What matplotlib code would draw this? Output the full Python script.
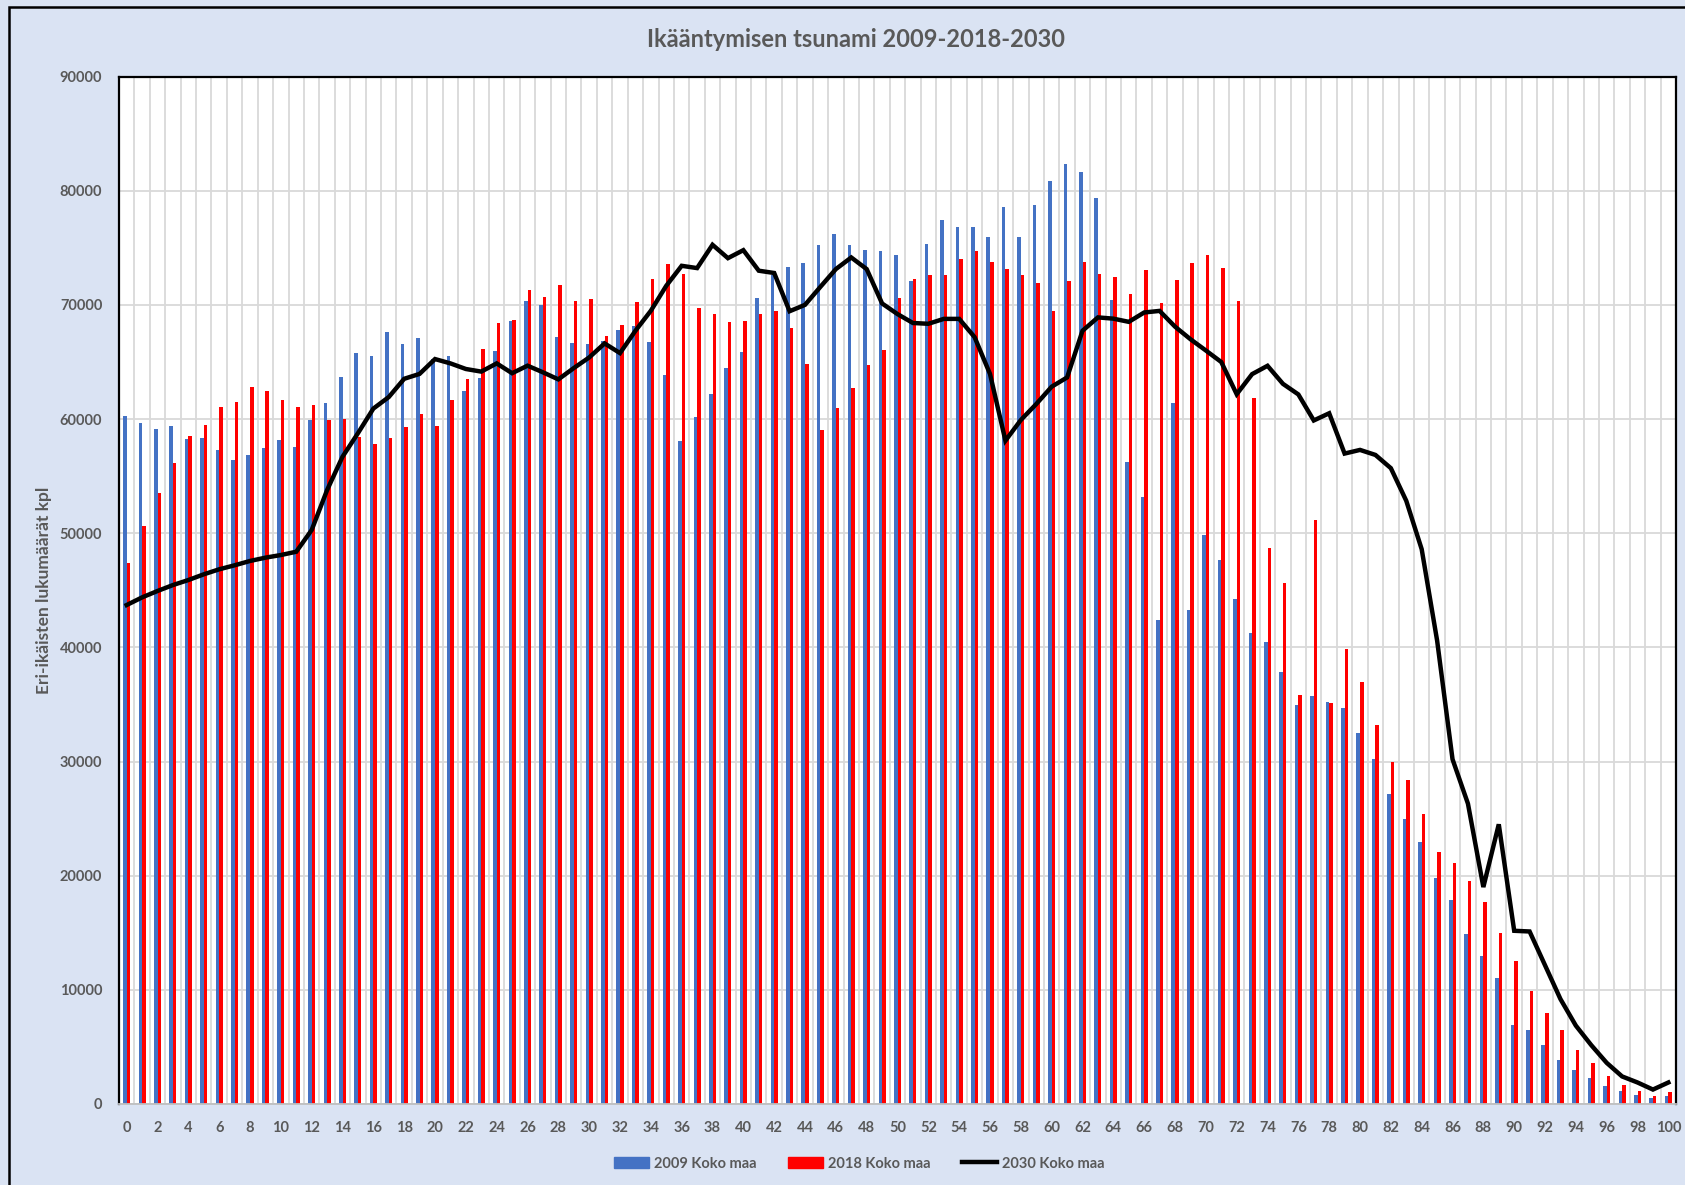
import numpy as np
import matplotlib.pyplot as plt
from matplotlib.patches import Rectangle
from matplotlib.lines import Line2D

# ikäryhmät 0-100
ika = np.arange(0, 101)

v2009 = [60260, 59680, 59100, 59420, 58280, 58360, 57310, 56410, 56820, 57460,
         58190, 57550, 59910, 61370, 63700, 65780, 65520, 67630, 66560, 67140,
         65260, 65520, 62490, 63640, 65950, 68580, 70350, 70000, 67230, 66690,
         66600, 66830, 67800, 68150, 66750, 63830, 58080, 60180, 62220, 64470,
         65870, 70600, 72600, 73350, 73650, 75270, 76230, 75270, 74830, 74690,
         74400, 72120, 75350, 77460, 76800, 76800, 75920, 78600, 75910, 78740,
         80880, 82340, 81660, 79330, 70450, 56260, 53200, 42390, 61380, 43290,
         49870, 47680, 44240, 41250, 40510, 37840, 34950, 35750, 35240, 34700,
         32510, 30260, 27180, 24940, 22980, 19770, 17910, 14860, 12990, 11060,
         6920, 6450, 5180, 3870, 2970, 2250, 1540, 1130, 790, 480, 670]

v2018 = [47420, 50660, 53490, 56170, 58510, 59500, 61050, 61520, 62830, 62420,
         61690, 61050, 61230, 59910, 59970, 58470, 57830, 58300, 59340, 60410,
         59420, 61680, 63470, 66100, 68410, 68670, 71330, 70700, 71740, 70310,
         70480, 67240, 68210, 70250, 72270, 73580, 72730, 69750, 69170, 68530,
         68620, 69220, 69450, 67950, 64820, 59040, 60970, 62690, 64730, 66020,
         70640, 72260, 72590, 72660, 74050, 74700, 73720, 73170, 72590, 71940,
         69430, 72120, 73720, 72730, 72420, 70940, 73060, 70140, 72170, 73710,
         74360, 73230, 70380, 61860, 48730, 45650, 35830, 51160, 35150, 39890,
         36940, 33220, 29920, 28390, 25400, 22070, 21110, 19490, 17720, 15010,
         12550, 9910, 7980, 6450, 4740, 3560, 2440, 1630, 1130, 670, 1010]

v2030 = [43710, 44380, 44940, 45460, 45900, 46400, 46840, 47190, 47570, 47860,
         48090, 48380, 50280, 53780, 56700, 58760, 60920, 61930, 63530, 63960,
         65260, 64880, 64390, 64160, 64880, 64020, 64680, 64100, 63480, 64470,
         65400, 66630, 65780, 67740, 69490, 71680, 73430, 73230, 75270, 74100,
         74800, 73000, 72800, 69450, 70010, 71590, 73140, 74160, 73140, 70130,
         69200, 68420, 68350, 68780, 68780, 67180, 63950, 58110, 59920, 61320,
         62840, 63650, 67740, 68910, 68800, 68520, 69340, 69480, 68100, 67000,
         66010, 65000, 62180, 63940, 64670, 63090, 62160, 59880, 60510, 56980,
         57300, 56860, 55700, 52840, 48600, 40600, 30200, 26310, 19000, 24500,
         15170, 15110, 12150, 9190, 6860, 5150, 3600, 2410, 1880, 1260, 1880]

sarjat = ['2009 Koko maa', '2018 Koko maa', '2030 Koko maa']

plt.rcParams['font.family'] = ['Lato', 'DejaVu Sans']
harmaa = '#595959'
tausta = '#DAE3F3'

fig = plt.figure(figsize=(16.85, 11.85), dpi=100, facecolor=tausta)
ax = fig.add_axes([0.0706, 0.0684, 0.9241, 0.8669])

w = 0.23
ax.bar(ika - w/2, v2009, width=w, color='#4472C4', label=sarjat[0], zorder=2)
ax.bar(ika + w/2, v2018, width=w, color='#FF0000', label=sarjat[1], zorder=2)
ax.plot(ika, v2030, color='black', lw=3.2, label=sarjat[2], zorder=3,
        solid_joinstyle='miter')

ax.set_xlim(-0.5, 100.5)
ax.set_ylim(0, 90000)
ax.set_yticks(np.arange(0, 90001, 10000))
ax.set_xticks(np.arange(0, 101, 2))
ax.set_xticks(np.arange(-0.5, 101, 1), minor=True)
ax.grid(axis='y', which='major', color='#D9D9D9', lw=1.3, zorder=0)
ax.grid(axis='x', which='minor', color='#D9D9D9', lw=1.3, zorder=0)
ax.set_axisbelow(True)
ax.tick_params(which='both', length=0)
ax.tick_params(axis='x', pad=12)
ax.tick_params(axis='y', pad=12)
for t in ax.get_xticklabels() + ax.get_yticklabels():
    t.set_fontweight('bold')
    t.set_color(harmaa)
    t.set_fontsize(10.5)

for s in ['left', 'top', 'right']:
    ax.spines[s].set_color('black')
    ax.spines[s].set_linewidth(1.6)
ax.spines['bottom'].set_color('#BFBFBF')
ax.spines['bottom'].set_linewidth(1.3)

ax.set_ylabel('Eri-ikäisten lukumäärät kpl', fontsize=12.5, fontweight='bold',
              color=harmaa)
ax.yaxis.set_label_coords(-0.043, 0.5)

fig.text(0.508, 0.967, 'Ikääntymisen tsunami 2009-2018-2030', ha='center',
         va='center', fontsize=17, fontweight='bold', color=harmaa)

kahvat = [Rectangle((0, 0), 1, 1, color='#4472C4'),
          Rectangle((0, 0), 1, 1, color='#FF0000'),
          Line2D([], [], color='black', lw=3.2)]
leg = fig.legend(kahvat, sarjat, loc='center', bbox_to_anchor=(0.51, 0.018),
                 ncol=3, frameon=False, fontsize=10.5, handlelength=2.4,
                 handleheight=0.8, columnspacing=2.2, handletextpad=0.3)
for t in leg.get_texts():
    t.set_color(harmaa)
    t.set_fontweight('bold')

# kehys kuvan ympärille
fig.patches.append(Rectangle((9/1685, -0.01), 1.1, (1185-7)/1185 + 0.01,
                             transform=fig.transFigure, fill=False,
                             edgecolor='black', lw=1.8))

fig.savefig('out.png', dpi=100, facecolor=tausta)
